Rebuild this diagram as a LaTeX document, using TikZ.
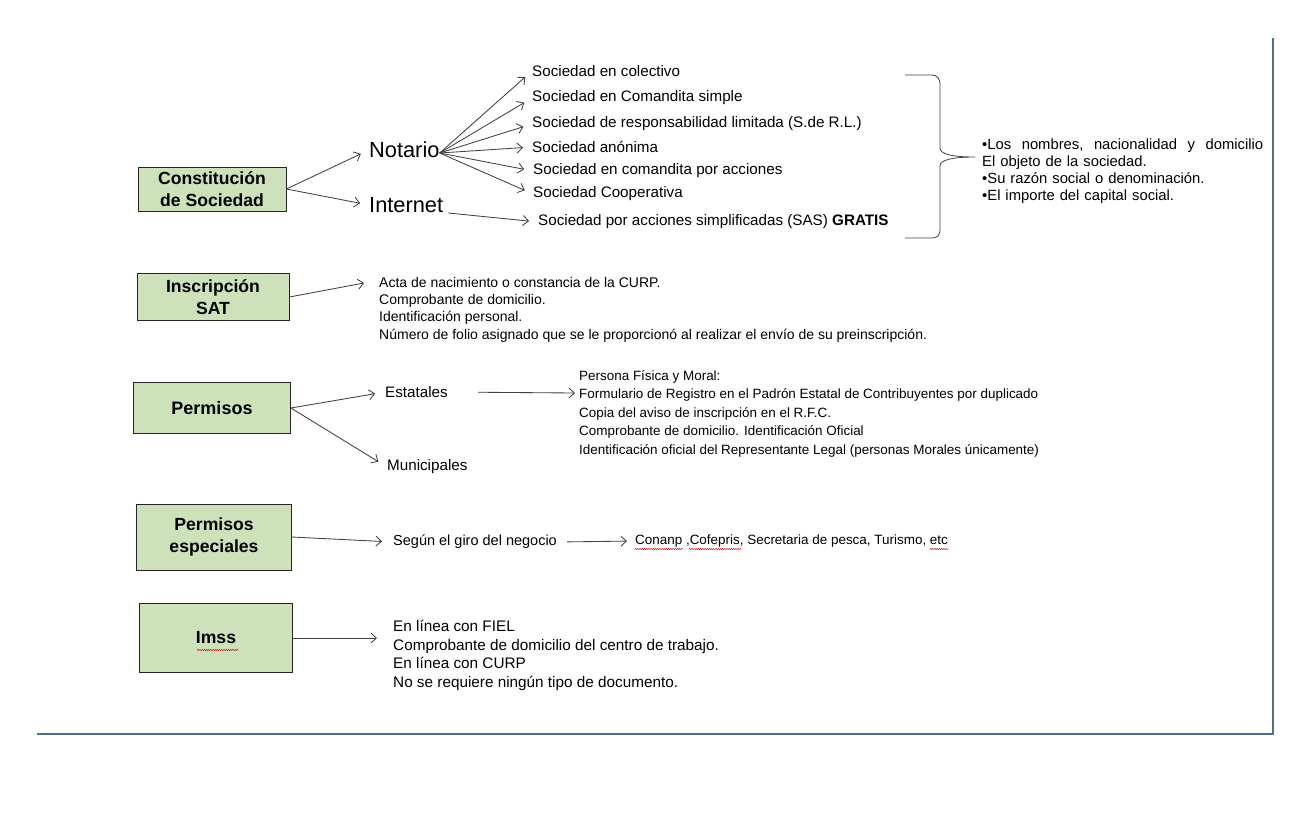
\documentclass[tikz,border=0pt]{standalone}
\usepackage{fontspec}
\setmainfont{Liberation Sans}
\usetikzlibrary{arrows.meta,positioning,decorations.pathmorphing}
\definecolor{boxgreen}{RGB}{205,226,186}
\definecolor{framblue}{RGB}{84,110,145}
\definecolor{inkgray}{RGB}{64,64,64}
\begin{document}
\begin{tikzpicture}[
		x=1pt, y=-1pt,
		box/.style={
			draw=black!85,
			line width=0.8pt,
			fill=boxgreen,
			align=center,
			inner sep=0pt,
			font=\bfseries\fontsize{17.6}{21.5}\selectfont
		},
		txt/.style={inner sep=0pt, anchor=west, font=\fontsize{15.2}{18}\selectfont},
		lst/.style={inner sep=0pt, anchor=north west, align=left},
		big/.style={inner sep=0pt, anchor=west, font=\fontsize{21.8}{24}\selectfont},
		arr/.style={draw=inkgray, line width=0.85pt, -{Straight Barb[length=5.5pt,width=10pt]}},
		squig/.style={draw=red!80!black, line width=0.4pt, decorate,
			decoration={snake, amplitude=0.7pt, segment length=2.2pt}}
		]
		\useasboundingbox (0,0) rectangle (1295,815);
		
		% left column
		\node[box, minimum width=148, minimum height=44] (const) at (212,189) {Constituci\'on\\de Sociedad};
		\node[box, minimum width=152, minimum height=47, font=\bfseries\fontsize{17.6}{22}\selectfont] (sat) at (213,297) {Inscripci\'on\\SAT};
		\node[box, minimum width=157, minimum height=51, font=\bfseries\fontsize{18}{22}\selectfont] (perm) at (212,408) {Permisos};
		\node[box, minimum width=155, minimum height=66, font=\bfseries\fontsize{17.6}{22}\selectfont] (esp) at (214,537) {Permisos\\especiales};
		\node[box, minimum width=153, minimum height=69] (imss) at (216,638) {Imss};
		
		% constitucion
		\node[big] (notario) at (369,150) {Notario};
		\node[big] (internet) at (369,205) {Internet};
		
		\node[txt] (colectivo) at (532,71) {Sociedad en colectivo};
		\node[txt] (simple) at (532,98) {Sociedad en Comandita simple};
		\node[txt] (srl) at (532,124) {Sociedad de responsabilidad limitada (S.de R.L.)};
		\node[txt] (anonima) at (532,147) {Sociedad an\'onima};
		\node[txt] (acciones) at (533,171) {Sociedad en comandita por acciones};
		\node[txt] (coop) at (533,194) {Sociedad Cooperativa};
		\node[txt] (sas) at (538,222) {Sociedad por acciones simplificadas (SAS) \textbf{GRATIS}};
		
		\draw[arr, shorten >=9pt] (const.east) -- (notario.west);
		\draw[arr, shorten >=9pt] (const.east) -- (internet.west);
		\foreach \soc in {colectivo,simple,srl,anonima,acciones,coop}
		\draw[arr, shorten >=9pt] ([yshift=-3pt]notario.east) -- (\soc.west);
		\draw[arr, shorten >=9pt] ([xshift=5pt,yshift=-8pt]internet.east) -- (sas.west);
		
		% brace
		\draw[inkgray, line width=0.8pt] (905,75) -- (930,75)
		.. controls (938,75) and (940,78) .. (940,86) -- (940,148)
		.. controls (940,154) and (952,157) .. (975,157)
		.. controls (952,157) and (940,160) .. (940,166) -- (940,228)
		.. controls (940,236) and (938,238) .. (930,238) -- (905,238);
		
		\node[lst, text width=281, font=\fontsize{14.8}{16.7}\selectfont] (reqs) at (982,139)
		{\hbox to 281pt{•Los\hfill nombres,\hfill nacionalidad\hfill y\hfill domicilio}\\El objeto de la sociedad.\\•Su raz\'on social o denominaci\'on.\\•El importe del capital social.};
		
		% SAT
		\coordinate (satin) at (364,283);
		\draw[arr] (sat.east) -- (satin);
		\node[lst, font=\fontsize{14}{17.3}\selectfont] (satlist) at (379,277)
		{Acta de nacimiento o constancia de la CURP.\\Comprobante de domicilio.\\Identificaci\'on personal.\\N\'umero de folio asignado que se le proporcion\'o al realizar el env\'io de su preinscripci\'on.};
		
		% permisos
		\node[txt] (estatales) at (385,392) {Estatales};
		\node[txt] (municipales) at (387,467) {Municipales};
		\draw[arr, shorten >=10pt] (perm.east) -- (estatales.west);
		\draw[arr, shorten >=10pt] (perm.east) -- (municipales.west);
		
		\coordinate (estin) at (575,393);
		\draw[arr, shorten <=30pt] (estatales.east) -- (estin);
		\node[lst, font=\fontsize{13.45}{18.5}\selectfont] (estlist) at (579,370)
		{Persona F\'isica y Moral:\\Formulario de Registro en el Padr\'on Estatal de Contribuyentes por duplicado\\Copia del aviso de inscripci\'on en el R.F.C.\\Comprobante de domicilio. Identificaci\'on Oficial\\Identificaci\'on oficial del Representante Legal (personas Morales \'unicamente)};
		
		% permisos especiales
		\node[txt, font=\fontsize{14.5}{18}\selectfont] (giro) at (393,542) {Seg\'un el giro del negocio};
		\node[txt, font=\fontsize{13.45}{18}\selectfont] (entes) at (635,541) {Conanp ,Cofepris, Secretaria de pesca, Turismo, etc};
		\draw[arr, shorten >=11pt] (esp.east) -- (giro.west);
		\draw[arr, shorten <=10pt, shorten >=8pt] (giro.east) -- (entes.west);
		
		% imss
		\coordinate (imssin) at (377,638);
		\draw[arr] (imss.east) -- (imssin);
		\node[lst, font=\fontsize{15.3}{18.7}\selectfont] (imsslist) at (393,620)
		{En l\'inea con FIEL\\Comprobante de domicilio del centro de trabajo.\\En l\'inea con CURP\\No se requiere ning\'un tipo de documento.};
		
		% spelling marks
		\draw[squig] (197,650) -- (238,650);
		\draw[squig] (635,549) -- (683,549);
		\draw[squig] (689,549) -- (741,549);
		\draw[squig] (930,549) -- (948,549);
		
		% frame
		\draw[framblue, line width=2.5pt] (1273,38) -- (1273,734);
		\draw[framblue, line width=2pt] (37,734) -- (1274,734);
		
	\end{tikzpicture}
\end{document}
